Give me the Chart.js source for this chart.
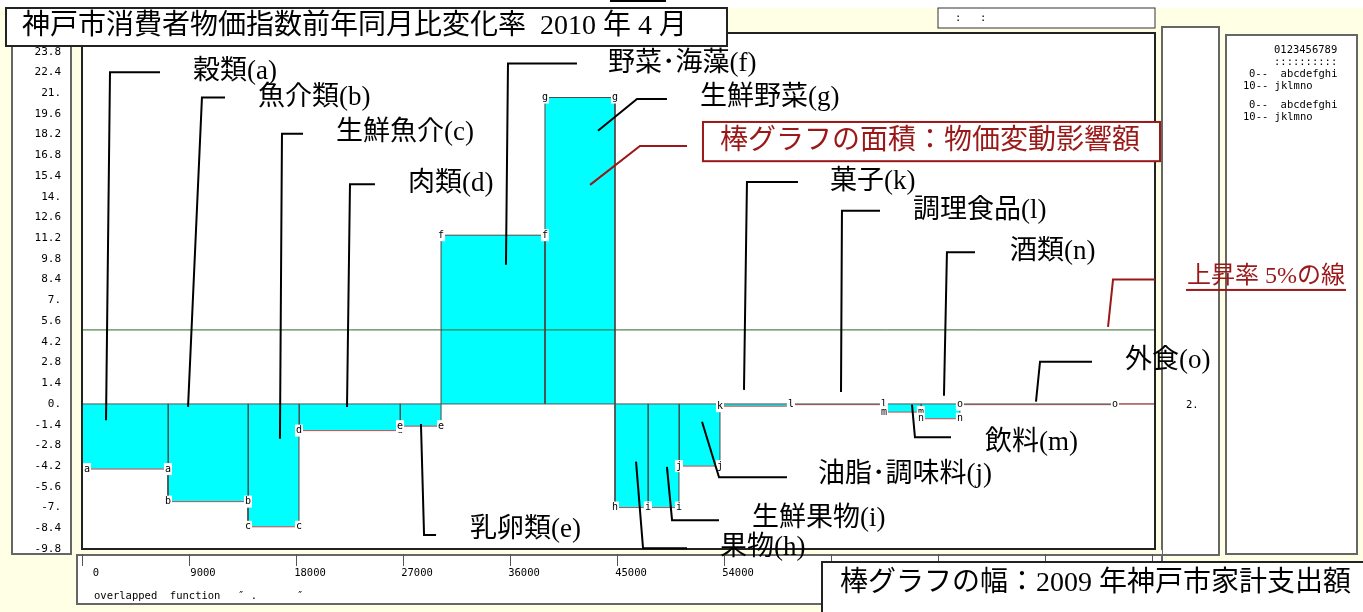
<!DOCTYPE html>
<html lang="ja">
<head>
<meta charset="utf-8">
<title>神戸市消費者物価指数前年同月比変化率</title>
<script src="https://cdn.jsdelivr.net/npm/chart.js@4.4.6/dist/chart.umd.min.js"></script>
<style>
  html, body { margin: 0; padding: 0; background: #fff; }
  canvas { display: block; }
</style>
</head>
<body>
<canvas id="graficaIndice" width="1363" height="612"></canvas>
<script>
// categorias y letras de cada barra
const categorias = ['穀類', '魚介類', '生鮮魚介', '肉類', '乳卵類', '野菜･海藻', '生鮮野菜', '果物', '生鮮果物', '油脂･調味料', '菓子', '調理食品', '飲料', '酒類', '外食'];
const letras = ['a', 'b', 'c', 'd', 'e', 'f', 'g', 'h', 'i', 'j', 'k', 'l', 'm', 'n', 'o'];
// ancho de barra: 2009年 家計支出額
const gastos = [7230, 6730, 4290, 8500, 3450, 8740, 5890, 2770, 2610, 3450, 5970, 7820, 3110, 3280, 13040];
// alto de barra: variacion interanual (%)
const cambios = [-4.4, -6.6, -8.3, -1.8, -1.5, 11.4, 20.7, -7.0, -7.0, -4.2, -0.15, -0.05, -0.55, -1.0, -0.05];

const lineaSubida = 5;
const ejeXMax = 90250;
const ejeYMin = -9.8;
const ejeYMax = 25.06;

const valoresX = [0, 9000, 18000, 27000, 36000, 45000, 54000, 63000, 72000, 81000, 90000];
const etiquetasX = ['0', '9000', '18000', '27000', '36000', '45000', '54000', '', '', '', ''];
const valoresY = [-9.8, -8.4, -7, -5.6, -4.2, -2.8, -1.4, 0, 1.4, 2.8, 4.2, 5.6, 7, 8.4, 9.8, 11.2, 12.6, 14, 15.4, 16.8, 18.2, 19.6, 21, 22.4, 23.8];
const etiquetasY = ['-9.8', '-8.4', '-7.', '-5.6', '-4.2', '-2.8', '-1.4', '0.', '1.4', '2.8', '4.2', '5.6', '7.', '8.4', '9.8', '11.2', '12.6', '14.', '15.4', '16.8', '18.2', '19.6', '21.', '22.4', '23.8'];

// textos de llamada (en unidades de datos: gasto, %)
const posTexto = [
    [9340, 22.4], [14800, 20.7], [21360, 18.3], [27420, 14.85], [32640, -8.5],
    [44240, 23.0], [51980, 20.65], [53660, -9.75], [56350, -7.8], [61900, -4.8],
    [62910, 15.0], [69900, 13.05], [75950, -2.65], [78050, 10.25], [87730, 2.9]
];
const guias = [
    [[6560, 22.4], [2355, 22.4], [2020, -1.1]],
    [[12030, 20.7], [10090, 20.7], [8920, -0.2]],
    [[18590, 18.25], [16820, 18.25], [16650, -2.35]],
    [[24640, 14.85], [22540, 14.85], [22290, -0.2]],
    [[28510, -1.35], [28770, -8.85], [29780, -8.85]],
    [[41630, 23.0], [35830, 23.0], [35660, 9.4]],
    [[49200, 20.6], [46680, 20.6], [43400, 18.45]],
    [[46600, -3.9], [47190, -9.75], [50890, -9.75]],
    [[49200, -4.25], [49630, -7.85], [53580, -7.85]],
    [[52150, -1.2], [53580, -4.95], [59300, -4.95]],
    [[60220, 15.0], [55930, 15.0], [55680, 0.95]],
    [[67120, 13.05], [63920, 13.05], [63840, 0.8]],
    [[69810, -0.05], [70060, -2.25], [73090, -2.25]],
    [[75110, 10.25], [72750, 10.25], [72500, 0.55]],
    [[84950, 2.85], [80580, 2.85], [80240, 0.15]]
];
const notaArea = '棒グラフの面積：物価変動影響額';
const cajaArea = [52230, 90670, 19.05, 16.4];
const textoArea = [53660, 17.7];
const guiaArea = [[50890, 17.43], [46930, 17.43], [42730, 14.8]];
const notaLinea = '上昇率 5%の線';
const textoLinea = [92940, 8.58];
const guiaLinea = [[90250, 8.4], [86720, 8.4], [86300, 5.2]];

const titulo = '神戸市消費者物価指数前年同月比変化率  2010 年 4 月';
const notaAncho = '棒グラフの幅：2009 年神戸市家計支出額';

const CREMA = '#ffffe6';
const ROJO_OSCURO = '#9a1818';
const ROJO_BORDE = '#cc4a4a';
const fuenteTexto = px => `${px}px "Liberation Serif", "Noto Sans CJK JP", serif`;
const fuenteMono = px => `${px}px "DejaVu Sans Mono", monospace`;

// limites de cada barra
const inicios = [];
const finales = [];
let acumulado = 0;
gastos.forEach(g => { inicios.push(acumulado); acumulado += g; finales.push(acumulado); });

document.addEventListener('DOMContentLoaded', function () {

    function caja(ctx, x, y, w, h, relleno, borde, grosor) {
        ctx.fillStyle = relleno;
        ctx.fillRect(x, y, w, h);
        if (borde) {
            ctx.strokeStyle = borde;
            ctx.lineWidth = grosor || 1;
            ctx.strokeRect(x, y, w, h);
        }
    }

    function trazo(chart, puntos, color) {
        const ctx = chart.ctx;
        const xs = chart.scales.x, ys = chart.scales.y;
        ctx.beginPath();
        puntos.forEach((p, i) => {
            const px = xs.getPixelForValue(p[0]), py = ys.getPixelForValue(p[1]);
            if (i === 0) ctx.moveTo(px, py); else ctx.lineTo(px, py);
        });
        ctx.strokeStyle = color;
        ctx.lineWidth = 2;
        ctx.stroke();
    }

    const decorado = {
        id: 'decorado',
        beforeDraw(chart) {
            const ctx = chart.ctx;
            const a = chart.chartArea;
            ctx.save();
            ctx.fillStyle = '#fff';
            ctx.fillRect(0, 0, chart.width, chart.height);
            ctx.fillStyle = CREMA;
            ctx.fillRect(0, 8, chart.width, chart.height - 8);
            caja(ctx, 12, 30, 59, 524, '#fff', '#666', 2);
            caja(ctx, 77, 555, 1085, 49, '#fff', '#666', 2);
            caja(ctx, 1162, 27, 57, 528, '#fff', '#666', 2);
            caja(ctx, 1226, 35, 131, 519, '#fff', '#666', 2);
            caja(ctx, 938, 8, 217, 20, '#fff', '#333', 1);
            ctx.fillStyle = '#fff';
            ctx.fillRect(a.left, a.top, a.right - a.left, a.bottom - a.top);
            ctx.restore();
        },
        beforeDatasetsDraw(chart) {
            const ctx = chart.ctx;
            ctx.save();
            ctx.fillStyle = CREMA;
            ctx.fillRect(77, 550, 1085, 4);
            ctx.restore();
        },
        afterDatasetsDraw(chart) {
            const ctx = chart.ctx;
            const a = chart.chartArea;
            const xs = chart.scales.x, ys = chart.scales.y;
            ctx.save();
            ctx.strokeStyle = '#222';
            ctx.lineWidth = 2;
            ctx.strokeRect(a.left, a.top, a.right - a.left, a.bottom - a.top);

            // letras en las esquinas de cada barra
            ctx.font = fuenteMono(10);
            ctx.textAlign = 'center';
            ctx.textBaseline = 'middle';
            letras.forEach((letra, i) => {
                const py = ys.getPixelForValue(cambios[i]);
                [inicios[i], finales[i]].forEach(xv => {
                    const w = ctx.measureText(letra).width + 2;
                    const px = Math.max(xs.getPixelForValue(xv), a.left + w / 2 + 1);
                    ctx.fillStyle = '#fff';
                    ctx.fillRect(px - w / 2, py - 6, w, 12);
                    ctx.fillStyle = '#000';
                    ctx.fillText(letra, px, py);
                });
            });
            ctx.restore();
        },
        afterDraw(chart) {
            const ctx = chart.ctx;
            const xs = chart.scales.x, ys = chart.scales.y;
            ctx.save();

            // textos del marco
            ctx.fillStyle = '#000';
            ctx.font = fuenteMono(10.5);
            ctx.textBaseline = 'middle';
            ctx.textAlign = 'left';
            ctx.fillText('overlapped  function', 94, 596);
            ctx.fillText('″ .', 238, 596);
            ctx.fillText('″', 297, 596);
            ctx.fillText(':', 955, 18);
            ctx.fillText(':', 980, 18);
            ctx.fillText('2.', 1186, 405);
            ctx.fillText('0123456789', 1274, 50);
            ctx.fillText('::::::::::', 1274, 62);
            ctx.fillText('0--  abcdefghi', 1249, 74);
            ctx.fillText('10-- jklmno', 1243, 86);
            ctx.fillText('0--  abcdefghi', 1249, 105);
            ctx.fillText('10-- jklmno', 1243, 117);
            ctx.fillRect(610, 0, 56, 2);

            // llamadas de cada categoria
            guias.forEach(g => trazo(chart, g, '#000'));
            ctx.font = fuenteTexto(27);
            ctx.fillStyle = '#000';
            categorias.forEach((cat, i) => {
                ctx.fillText(`${cat}(${letras[i]})`, xs.getPixelForValue(posTexto[i][0]), ys.getPixelForValue(posTexto[i][1]));
            });

            // nota del area de la barra
            trazo(chart, guiaArea, ROJO_OSCURO);
            const bx0 = xs.getPixelForValue(cajaArea[0]), bx1 = xs.getPixelForValue(cajaArea[1]);
            const by0 = ys.getPixelForValue(cajaArea[2]), by1 = ys.getPixelForValue(cajaArea[3]);
            caja(ctx, bx0, by0, bx1 - bx0, by1 - by0, '#fff', ROJO_OSCURO, 2);
            ctx.font = fuenteTexto(28);
            ctx.fillStyle = ROJO_OSCURO;
            ctx.fillText(notaArea, xs.getPixelForValue(textoArea[0]), ys.getPixelForValue(textoArea[1]));

            // nota de la linea del 5%
            trazo(chart, guiaLinea, ROJO_OSCURO);
            ctx.font = fuenteTexto(24);
            ctx.fillStyle = ROJO_OSCURO;
            const tx = xs.getPixelForValue(textoLinea[0]), ty = ys.getPixelForValue(textoLinea[1]);
            ctx.fillText(notaLinea, tx, ty);
            const anchoLinea = ctx.measureText(notaLinea).width;
            ctx.fillRect(tx - 1, ty + 12, anchoLinea + 2, 2);

            // titulo
            caja(ctx, 6, 8, 721, 38, '#fff', '#222', 2);
            ctx.font = fuenteTexto(28);
            ctx.fillStyle = '#000';
            ctx.fillText(titulo, 22, 27);

            // nota del ancho
            caja(ctx, 822, 562, 560, 60, '#fff', '#222', 2);
            ctx.fillStyle = '#000';
            ctx.fillText(notaAncho, 840, 584);
            ctx.restore();
        }
    };

    function crearBarras() {
        return categorias.map((cat, i) => ({
            label: cat,
            data: [
                { x: inicios[i], y: 0 },
                { x: inicios[i], y: cambios[i] },
                { x: finales[i], y: cambios[i] },
                { x: finales[i], y: 0 }
            ],
            fill: 'origin',
            backgroundColor: '#00ffff',
            borderColor: '#4a4a4a',
            borderWidth: 1,
            pointRadius: 0,
            tension: 0,
            order: 3,
            segment: {
                borderColor: c => (c.p0DataIndex === 1 && cambios[i] < 0) ? ROJO_BORDE : '#4a4a4a'
            }
        }));
    }

    const datasets = crearBarras();
    datasets.push({
        label: 'cero',
        data: [{ x: 0, y: 0 }, { x: ejeXMax, y: 0 }],
        borderColor: '#555',
        borderWidth: 1,
        pointRadius: 0,
        fill: false,
        order: 2
    });
    datasets.push({
        label: 'cero final',
        data: [{ x: finales[finales.length - 1], y: 0 }, { x: ejeXMax, y: 0 }],
        borderColor: ROJO_BORDE,
        borderWidth: 1,
        pointRadius: 0,
        fill: false,
        order: 1
    });
    datasets.push({
        label: '上昇率 5%',
        data: [{ x: 0, y: lineaSubida }, { x: ejeXMax, y: lineaSubida }],
        borderColor: '#2a662a',
        borderWidth: 1,
        pointRadius: 0,
        fill: false,
        order: 0
    });

    const ctx = document.getElementById('graficaIndice').getContext('2d');
    new Chart(ctx, {
        type: 'line',
        data: { datasets: datasets },
        plugins: [decorado],
        options: {
            responsive: false,
            animation: false,
            devicePixelRatio: 1,
            layout: { padding: { left: 12, top: 33, right: 208, bottom: 0 } },
            plugins: {
                legend: { display: false },
                tooltip: { enabled: false }
            },
            scales: {
                x: {
                    type: 'linear',
                    min: 0,
                    max: ejeXMax,
                    afterBuildTicks: scale => { scale.ticks = valoresX.map(v => ({ value: v })); },
                    afterFit: scale => { scale.height = 63; },
                    border: { display: false },
                    grid: { drawOnChartArea: false, drawTicks: true, tickLength: 17, color: '#555', lineWidth: 1 },
                    ticks: {
                        autoSkip: false,
                        maxRotation: 0,
                        padding: 1,
                        labelOffset: 14,
                        color: '#000',
                        font: { family: '"DejaVu Sans Mono", monospace', size: 10.5 },
                        callback: (v, i) => etiquetasX[i]
                    }
                },
                y: {
                    type: 'linear',
                    min: ejeYMin,
                    max: ejeYMax,
                    afterBuildTicks: scale => { scale.ticks = valoresY.map(v => ({ value: v })); },
                    afterFit: scale => { scale.width = 70; },
                    border: { display: false },
                    grid: { display: false, drawTicks: false },
                    ticks: {
                        padding: 21,
                        color: '#000',
                        font: { family: '"DejaVu Sans Mono", monospace', size: 11 },
                        callback: (v, i) => etiquetasY[i]
                    }
                }
            }
        }
    });
});
</script>
</body>
</html>
